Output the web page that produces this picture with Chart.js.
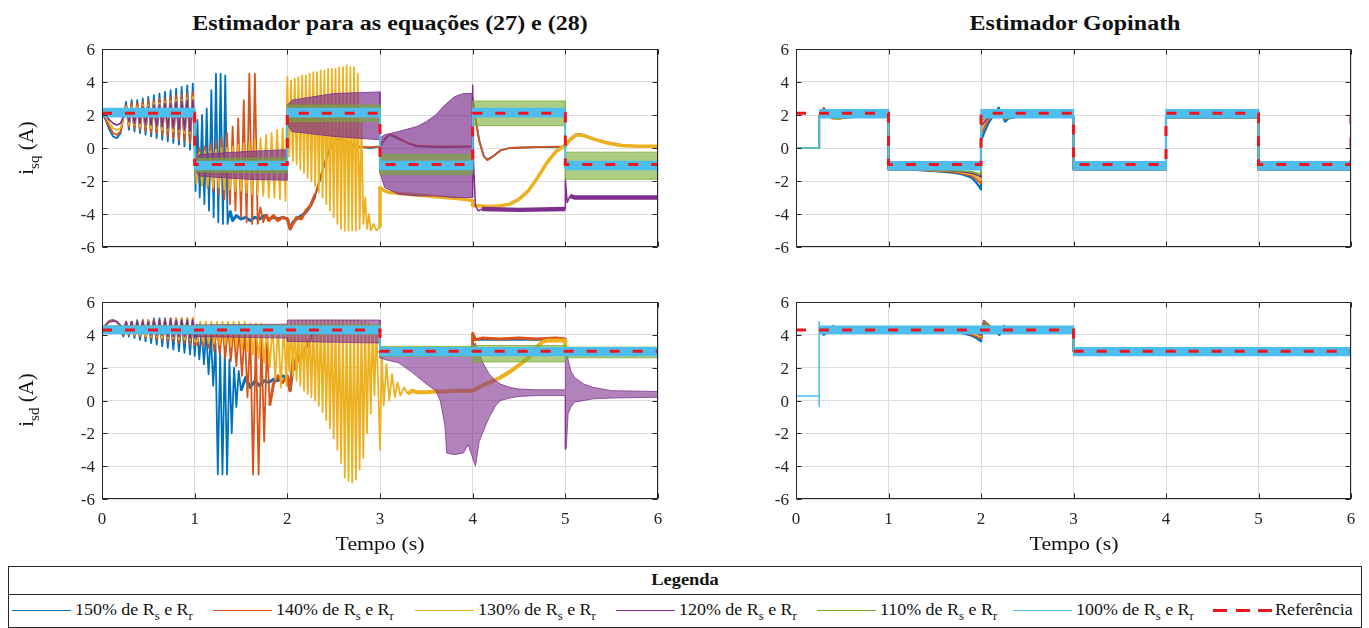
<!DOCTYPE html>
<html><head><meta charset="utf-8">
<script src="https://cdn.jsdelivr.net/npm/chart.js@4.4.0/dist/chart.umd.min.js"></script>
<style>
body{margin:0;background:#fff;width:1369px;height:628px;overflow:hidden;position:relative;font-family:'Liberation Serif','Times New Roman',serif;color:#111}
canvas{position:absolute}
.t{position:absolute;white-space:nowrap;line-height:1}
.c{transform:translate(-50%,-50%) scaleX(1.15)}
.ttl{font-weight:bold;font-size:20px;transform:translate(-50%,-50%) scaleX(1.2)}
.yl{font-size:21px;transform:translate(-50%,-50%) rotate(-90deg)}
sub{font-size:0.72em;vertical-align:-0.45em;line-height:0}
.li{position:absolute;white-space:nowrap;font-size:16px;line-height:1;transform-origin:left center;transform:translateY(-50%) scaleX(1.12)}
.tk{position:absolute;white-space:nowrap;font-size:17px;line-height:1;color:#262626}
.tky{transform:translate(-100%,-50%)}
.tkx{transform:translate(-50%,0)}
</style></head><body>
<canvas id="cA" width="640" height="222" style="left:30px;top:38px;width:640px;height:222px"></canvas>
<canvas id="cB" width="640" height="250" style="left:30px;top:290px;width:640px;height:250px"></canvas>
<canvas id="cC" width="640" height="222" style="left:724px;top:38px;width:640px;height:222px"></canvas>
<canvas id="cD" width="640" height="250" style="left:724px;top:290px;width:640px;height:250px"></canvas>
<div class="t ttl" style="left:390px;top:23px">Estimador para as equações (27) e (28)</div>
<div class="t ttl" style="left:1075px;top:23px">Estimador Gopinath</div>
<div class="t yl" style="left:26px;top:148px">i<sub>sq</sub> (A)</div>
<div class="t yl" style="left:26px;top:400px">i<sub>sd</sub> (A)</div>
<div class="t c" style="left:380px;top:543px;font-size:19px">Tempo (s)</div>
<div class="t c" style="left:1074px;top:543px;font-size:19px">Tempo (s)</div>
<div id="ticks"></div>
<div id="legend"></div>
<script>
// ---------- axis ticks ----------
const X_TICKS = [0,1,2,3,4,5,6];
const Y_TICKS = [-6,-4,-2,0,2,4,6];

// ---------- shared time grids ----------
const T01 = [0,0.04,0.08,0.12,0.16,0.2,0.23,0.26,0.29,0.32,0.35,0.38,0.41,0.44,0.47,0.5,0.53,0.56,0.59,0.62,0.65,0.68,0.71,0.74,0.77,0.8,0.83,0.86,0.89,0.92,0.95,0.98,1.0];
const T12 = [1.02,1.05,1.08,1.11,1.14,1.17,1.2,1.23,1.26,1.29,1.32,1.35,1.38,1.41,1.44,1.47,1.5,1.53,1.56,1.59,1.62,1.65,1.68,1.71,1.74,1.77,1.8,1.83,1.86,1.89,1.92,1.95,1.98];
const T12B = [1.03,1.06,1.09,1.12,1.15,1.18,1.21,1.24,1.27,1.3,1.33,1.36,1.39,1.42,1.45,1.48,1.51,1.54,1.57,1.6,1.63,1.66,1.69,1.72,1.75,1.78,1.81,1.84,1.87,1.9,1.93,1.96,1.99];
const T2Y = [2,2.02,2.04,2.06,2.08,2.1,2.12,2.14,2.16,2.18,2.2,2.22,2.24,2.26,2.28,2.3,2.32,2.34,2.36,2.38,2.4,2.42,2.44,2.46,2.48,2.5,2.52,2.54,2.56,2.58,2.6,2.62,2.64,2.66,2.68,2.7,2.72,2.74,2.76,2.78];
const T2B = [...T2Y,2.8,2.82,2.84,2.86,2.88,2.9,2.92,2.94,2.96,2.98];

// ================= Panel A: i_sq, estimator eq. (27)/(28) =================
const T_REF_A = [0,1,1,2,2,3,3,4,4,5,5,6];
const REF_A   = [2.1,2.1,-1,-1,2.1,2.1,-1,-1,2.1,2.1,-1,-1];
const T_A100 = [0,0,1,1,2,2,3,3,4,4,5,5,6];
const A100_HI = [0,2.4,2.4,-0.82,-0.82,2.4,2.4,-0.82,-0.82,2.4,2.4,-0.82,-0.82];
const A100_LO = [0,1.9,1.9,-1.3,-1.3,1.9,1.9,-1.3,-1.3,1.9,1.9,-1.3,-1.3];
const T_A110 = [0,1,1,2,2,3,3,4,4,5,5,6];
const A110_HI = [2.3,2.35,-0.65,-0.6,2.6,2.6,-0.4,-0.4,2.85,2.85,-0.25,-0.25];
const A110_LO = [1.95,1.9,-1.45,-1.5,1.6,1.6,-1.6,-1.6,1.35,1.35,-1.9,-1.9];
const A120_L1 = [2.1,2.0,1.7,1.5,1.4,1.5,1.9,2.4,1.6,2.4,1.5,2.4,1.5,2.5,1.4,2.5,1.4,2.6,1.3,2.6,1.3,2.7,1.2,2.7,1.2,2.8,1.1,2.8,1.1,2.9,1.0,2.9,1.0];
const T_A120B = [1.0,1.05,1.3,1.6,2.0,2.0,2.05,2.5,3.0,3.0,3.05,3.2,3.4,3.5,3.6,3.7,3.8,3.9,4.0];
const A120_HI = [-0.8,-0.4,-0.3,-0.2,-0.1,2.6,2.9,3.3,3.4,0.6,0.8,1.0,1.3,1.6,2.0,2.6,3.1,3.3,3.3];
const A120_LO = [-1.3,-1.7,-1.8,-1.9,-1.95,1.4,1.0,0.7,0.5,-1.5,-2.4,-2.8,-2.9,-2.9,-2.9,-2.95,-3.0,-3.0,-3.0];
const T_A120C = [4.0,4.0,4.01,4.03,4.06,4.1,4.5,5.0,5.0,5.02,5.05,5.1,5.5,6.0];
const A120_L2 = [-3.0,3.8,-1.0,-3.5,-3.8,-3.7,-3.75,-3.7,-1.9,-3.3,-2.9,-3.0,-3.0,-3.0];
const T_A130 = [...T01,...T12,...T2Y,2.8,2.82,2.84,2.86,2.88,2.9,2.93,2.96,3.0,3.0,3.05,3.1,3.2,3.3,3.4,3.5,3.6,3.7,3.8,3.9,4.0,4.0,4.05,4.2,4.3,4.4,4.5,4.6,4.7,4.8,4.9,5.0,5.05,5.12,5.2,5.3,5.45,5.6,5.8,6.0];
const A130 = [2.1,1.9,1.5,1.2,1.1,1.2,1.8,2.5,1.4,2.5,1.4,2.5,1.3,2.6,1.3,2.6,1.2,2.7,1.2,2.7,1.1,2.8,1.1,2.8,1.0,2.9,1.0,2.9,0.9,3.0,0.9,3.1,0.8,
 -2.2,-0.3,-2.3,-0.2,-2.3,-0.2,-2.4,-0.1,-2.4,0.0,-2.5,0.0,-2.5,0.1,-2.6,0.2,-2.6,0.3,-2.7,0.4,-2.8,0.5,-2.8,0.6,-2.9,0.8,-3.0,0.9,-3.0,1.1,-3.1,1.2,-3.2,
 4.3,-0.5,4.1,-0.8,4.2,-1.0,4.3,-1.3,4.4,-1.5,4.4,-1.8,4.5,-2.0,4.6,-2.3,4.6,-2.7,4.7,-3.0,4.7,-3.4,4.8,-3.8,4.8,-4.2,4.8,-4.6,4.9,-4.9,4.9,-5.0,5.0,-5.0,4.9,-5.0,4.9,-5.0,4.5,-4.9,
 1.5,-4.6,-3.0,-4.9,-4.0,-5.0,-4.6,-5.0,-4.8,
 -2.4,-2.6,-2.7,-2.75,-2.8,-2.85,-2.9,-2.95,-3.0,-3.05,-3.1,-3.2,
 -3.5,-3.5,-3.55,-3.5,-3.4,-3.1,-2.6,-1.8,-0.9,-0.2,0.15,
 0.5,0.8,0.75,0.55,0.3,0.15,0.1,0.1];
const T_A140 = [...T01,1.02,1.05,1.08,1.11,1.14,1.17,1.2,1.23,1.26,1.29,1.32,1.35,1.38,1.41,1.44,1.47,1.5,1.53,1.56,1.59,1.62,1.65,1.68,1.71,1.74,1.77,1.8,1.85,1.9,1.95,2.0,
 2.03,2.06,2.1,2.15,2.2,2.25,2.3,2.35,2.4,2.45,2.5,2.55,2.6,2.65,2.7,2.8,2.9,3.0,3.05,3.1,3.15,3.2,3.3,3.4,3.6,3.8,4.0,4.0,4.03,4.07,4.12,4.16,4.22,4.3,4.4,4.7,5.0,5.05,5.12,5.2,5.3,5.45,5.6,5.8,6.0];
const A140 = [2.1,1.8,1.3,0.9,0.8,1.0,1.8,2.6,1.3,2.7,1.2,2.7,1.1,2.8,1.0,2.9,0.9,2.9,0.9,3.0,0.8,3.0,0.7,3.1,0.6,3.2,0.5,3.2,0.4,3.3,0.3,3.4,0.2,
 -2.0,0.0,-2.2,0.1,-2.4,0.2,-2.6,0.4,-2.8,0.6,-3.1,0.9,-3.4,1.3,-3.8,1.8,-4.2,2.9,-4.5,4.5,-4.6,4.5,-4.6,-3.6,-4.5,-4.0,-4.4,-4.1,-4.4,-4.2,-4.3,
 -4.9,-4.6,-4.2,-4.3,-3.8,-3.5,-2.8,-1.9,-0.9,-0.1,0.4,0.6,0.45,0.3,0.15,0.05,0.05,0.1,
 0.55,0.8,0.75,0.6,0.3,0.15,0.1,0.1,0.1,
 3.0,1.8,0.4,-0.5,-0.75,-0.5,-0.15,0.0,0.05,0.1,
 0.55,0.85,0.8,0.55,0.35,0.2,0.1,0.1];
const T_A150 = [...T01,1.01,1.03,1.055,1.08,1.105,1.13,1.155,1.18,1.205,1.23,1.255,1.28,1.305,1.33,1.355,1.38,1.41,1.45,1.5,1.55,1.6,1.65,1.7,1.75,1.8,1.85,1.9,1.95,2.0,
 2.03,2.06,2.1,2.15,2.2,2.25,2.3,2.35,2.4,2.45,2.5,2.55,2.6,2.65,2.7,2.8,2.9,3.0,3.05,3.1,3.15,3.2,3.3,3.4,3.6,3.8,4.0,4.0,4.03,4.07,4.12,4.16,4.22,4.3,4.4,4.7,5.0,5.05,5.12,5.2,5.3,5.45,5.6,5.8,6.0];
const A150 = [2.1,1.7,1.1,0.7,0.6,0.9,1.8,2.8,1.1,2.9,1.0,2.9,0.9,3.0,0.8,3.1,0.7,3.2,0.6,3.3,0.5,3.4,0.4,3.5,0.3,3.6,0.2,3.7,0.1,3.8,-0.1,3.9,-0.3,
 -2.6,1.7,-3.0,2.0,-3.4,2.4,-3.8,3.5,-4.2,4.5,-4.5,4.5,-4.6,4.4,-4.6,-3.8,-4.4,-4.1,-4.3,-4.2,-4.4,-4.2,-4.3,-4.1,-4.3,-4.2,-4.3,-4.2,-4.3,
 -4.9,-4.5,-4.3,-4.1,-3.9,-3.5,-2.9,-2.0,-1.0,-0.2,0.3,0.55,0.5,0.35,0.2,0.05,0.0,0.1,
 0.5,0.8,0.7,0.55,0.3,0.1,0.05,0.05,0.1,
 3.0,1.8,0.5,-0.5,-0.7,-0.5,-0.15,0.0,0.05,0.05,
 0.5,0.85,0.8,0.55,0.3,0.15,0.1,0.1];

// ================= Panel B: i_sd, estimator eq. (27)/(28) =================
const T_REF_B = [0,3,3,6];
const REF_B   = [4.3,4.3,3.0,3.0];
const T_B100 = [0,0,3,3,6];
const B100_HI = [0,4.52,4.52,3.22,3.22];
const B100_LO = [0,4.08,4.08,2.74,2.74];
const T_B110 = [0,3,3,4,4,5,5,6];
const B110_HI = [4.55,4.6,3.3,3.3,3.35,3.35,3.25,3.25];
const B110_LO = [4.1,4.05,2.7,2.7,2.35,2.35,2.6,2.6];
const B120_L1 = [4.3,4.6,4.8,4.85,4.8,4.6,4.2,4.8,4.2,4.8,4.1,4.8,4.1,4.8,4.1,4.8,4.0,4.9,4.0,4.9,4.0,4.9,3.9,4.9,3.9,4.9,3.9,4.9,3.9,4.9,3.8,4.9,3.8];
const T_B120B = [1.0,2.0,2.0,3.0,3.0,3.05,3.2,3.35,3.5,3.6,3.65,3.7,3.72,3.8,3.9,3.95,4.0,4.03,4.07,4.12,4.18,4.25,4.3,4.4,4.5,4.7,5.0,5.0,5.01,5.03,5.06,5.1,5.2,5.3,5.5,6.0];
const B120_HI = [4.6,4.65,4.9,4.9,3.1,3.0,3.0,3.0,3.0,3.0,3.0,3.1,3.1,3.1,3.1,3.2,3.3,3.5,2.8,2.2,1.6,1.2,1.0,0.8,0.7,0.65,0.65,3.0,3.0,2.5,1.8,1.4,1.0,0.8,0.6,0.55];
const B120_LO = [3.9,3.8,3.6,3.5,2.6,2.5,2.3,1.7,1.0,0.6,0.0,-1.5,-3.2,-3.3,-3.2,-2.7,-3.5,-4.0,-2.5,-1.8,-1.0,-0.3,0.0,0.15,0.25,0.3,0.3,-3.0,-2.9,-0.8,-0.4,-0.1,0.0,0.1,0.15,0.2];
const T_B130 = [...T01,...T12B,...T2B,3.0,3.02,3.04,3.07,3.1,3.13,3.16,3.19,3.22,3.26,3.3,3.35,3.4,3.5,3.6,3.7,3.8,3.9,4.0,4.1,4.2,4.3,4.4,4.5,4.6,4.7,4.75,4.8,4.9,5.0,5.0,6.0];
const B130 = [4.3,4.6,4.8,4.85,4.8,4.5,4.1,4.8,4.1,4.8,4.0,4.8,4.0,4.8,3.9,4.9,3.9,4.9,3.9,4.9,3.8,4.9,3.8,4.9,3.8,5.0,3.7,5.0,3.7,5.0,3.7,5.0,3.6,
 3.6,4.8,3.6,4.8,3.5,4.8,3.5,4.8,3.4,4.8,3.4,4.8,3.3,4.8,3.2,4.8,3.1,4.8,3.0,4.7,2.8,4.7,2.6,4.7,2.3,4.6,2.0,4.6,1.3,4.6,0.8,4.6,0.9,
 4.6,1.8,4.8,1.5,4.8,1.2,4.9,0.9,4.9,0.6,4.9,0.4,4.9,0.2,4.9,0.0,4.9,-0.3,4.9,-0.7,4.9,-1.2,4.9,-1.7,4.9,-2.3,4.9,-3.0,4.9,-3.8,4.9,-4.7,4.9,-4.9,4.9,-5.0,4.9,-4.8,4.9,-4.2,4.8,-3.5,4.8,-2.0,4.7,-0.8,4.6,0.3,4.5,1.0,
 -3.0,
 2.8,-0.3,2.2,0.0,1.6,0.2,1.1,0.3,0.8,0.4,0.6,0.5,0.5,0.55,0.55,0.6,0.6,0.6,
 0.9,1.15,1.4,1.75,2.15,2.6,3.3,3.55,3.65,3.65,3.65,
 3.0,3.0];
const T_B140 = [...T01,1.03,1.06,1.09,1.12,1.15,1.18,1.21,1.24,1.27,1.3,1.33,1.36,1.39,1.42,1.45,1.48,1.51,1.54,1.57,1.6,1.63,1.66,1.69,1.72,1.75,1.78,1.81,1.85,1.9,1.95,2.0,
 2.03,2.06,2.09,2.12,2.15,2.2,2.25,2.3,2.35,3.0,3.0,4.0,4.0,4.03,4.1,4.3,4.5,4.7,4.9,5.0,5.0,6.0];
const B140 = [4.3,4.6,4.85,4.9,4.8,4.5,4.0,4.8,4.0,4.8,3.9,4.8,3.9,4.9,3.8,4.9,3.8,4.9,3.7,4.9,3.7,4.9,3.6,5.0,3.6,5.0,3.5,5.0,3.5,5.0,3.4,5.0,3.4,
 3.4,4.6,3.3,4.6,3.2,4.6,3.0,4.5,2.8,4.5,2.6,4.5,2.4,4.4,2.1,4.4,1.5,4.3,0.2,4.2,-4.5,4.0,-4.5,3.8,-2.5,3.5,-0.3,1.0,1.5,1.1,1.5,
 0.6,2.6,1.9,2.8,2.6,3.2,3.8,4.1,4.3,4.3,3.0,3.0,4.1,3.7,3.8,3.75,3.8,3.75,3.8,3.75,3.0,3.0];
const T_B150 = [...T01,1.025,1.05,1.075,1.1,1.125,1.15,1.175,1.2,1.225,1.25,1.275,1.3,1.325,1.35,1.375,1.4,1.425,1.45,1.475,1.5,1.55,1.6,1.65,1.7,1.75,1.8,1.85,1.9,1.95,2.0,
 2.03,2.06,2.1,2.15,2.2,2.25,2.3,2.4,3.0,3.0,4.0,4.0,4.03,5.0,5.0,6.0];
const B150 = [4.3,4.6,4.85,4.9,4.8,4.4,3.9,4.8,3.9,4.8,3.8,4.9,3.7,4.9,3.6,4.9,3.5,5.0,3.4,5.0,3.3,5.0,3.2,5.0,3.1,5.0,3.0,5.0,2.9,5.0,2.8,5.0,2.7,
 4.6,2.5,4.4,2.2,4.2,1.6,4.0,0.9,3.5,-4.5,3.0,-4.5,3.0,-4.5,2.5,-2.0,2.0,-0.4,1.8,0.6,1.4,0.8,1.2,0.9,1.2,1.1,1.3,1.2,1.5,1.4,
 0.6,1.9,2.4,2.7,3.2,3.8,4.2,4.4,4.3,3.0,3.0,4.0,3.7,3.7,3.0,3.0];

// ================= Panel C: i_sq, Gopinath =================
const T_REF_C = [0,1,1,2,2,3,3,4,4,5,5,6,6];
const REF_C   = [2.1,2.1,-1,-1,2.1,2.1,-1,-1,2.1,2.1,-1,-1,2.1];
const T_C100A = [0,0.25,0.25];
const C100A   = [0,0,1.84];
const T_C100B = [0.25,1,1,2,2,3,3,4,4,5,5,6];
const C100_HI = [2.32,2.32,-0.84,-0.84,2.32,2.32,-0.84,-0.84,2.32,2.32,-0.84,-0.84];
const C100_LO = [1.84,1.84,-1.32,-1.32,1.84,1.84,-1.32,-1.32,1.84,1.84,-1.32,-1.32];
const T_C = [0,0.25,0.25,0.3,0.34,0.38,0.45,0.55,0.7,1.0,1.0,1.3,1.5,1.7,1.8,1.9,1.95,2.0,2.0,2.04,2.08,2.12,2.16,2.19,2.23,2.26,2.3,2.4,3.0,3.0,4.0,4.0,5.0,5.0,6.0];
const C110 = [0,0,1.9,2.3,2.15,1.85,1.8,1.85,1.9,1.9,-1.3,-1.3,-1.32,-1.35,-1.4,-1.45,-1.52,-1.6,1.6,1.8,1.9,2.0,2.15,2.2,2.0,1.9,1.9,1.9,1.9,-1.3,-1.3,1.85,1.85,-1.3,-1.3];
const C120 = [0,0,1.9,2.4,2.15,1.85,1.8,1.85,1.9,1.9,-1.3,-1.3,-1.33,-1.38,-1.45,-1.52,-1.62,-1.75,1.35,1.6,1.85,2.0,2.2,2.25,2.0,1.85,1.9,1.9,1.9,-1.3,-1.3,1.85,1.85,-1.3,-1.3];
const C130 = [0,0,1.9,2.45,2.1,1.8,1.75,1.85,1.9,1.9,-1.3,-1.3,-1.35,-1.4,-1.5,-1.6,-1.75,-1.95,1.1,1.5,1.8,1.95,2.2,2.3,2.0,1.8,1.85,1.9,1.9,-1.3,-1.3,1.85,1.85,-1.3,-1.3];
const C140 = [0,0,1.9,2.4,2.1,1.8,1.75,1.85,1.9,1.9,-1.3,-1.32,-1.38,-1.45,-1.55,-1.7,-1.9,-2.15,0.8,1.3,1.7,1.9,2.2,2.35,2.0,1.75,1.85,1.9,1.9,-1.3,-1.3,1.85,1.85,-1.3,-1.3];
const C150 = [0,0,1.9,2.3,2.1,1.85,1.8,1.85,1.9,1.9,-1.3,-1.32,-1.4,-1.5,-1.6,-1.8,-2.1,-2.5,0.45,1.0,1.5,1.85,2.1,2.45,2.0,1.6,1.8,1.9,1.9,-1.3,-1.3,1.85,1.85,-1.3,-1.3];

// ================= Panel D: i_sd, Gopinath =================
const T_REF_D = [0,3,3,6];
const REF_D   = [4.3,4.3,3.0,3.0];
const T_D100A = [0,0.25,0.25,0.25,0.25];
const D100A   = [0.27,0.27,-0.37,4.8,4.3];
const T_D100B = [0.25,3,3,6];
const D100_HI = [4.52,4.52,3.22,3.22];
const D100_LO = [4.08,4.08,2.74,2.74];
const T_D = [0.25,0.3,0.35,0.4,0.45,0.55,0.7,1.0,1.5,1.7,1.8,1.9,1.95,2.0,2.03,2.06,2.1,2.15,2.2,2.25,2.3,2.4,3.0,3.0,6.0];
const D110 = [4.3,4.15,4.3,4.45,4.4,4.3,4.3,4.3,4.3,4.3,4.28,4.25,4.2,4.15,4.6,4.6,4.45,4.35,4.25,4.35,4.3,4.3,4.3,3.0,3.0];
const D120 = [4.3,4.1,4.3,4.5,4.4,4.3,4.3,4.3,4.3,4.28,4.25,4.2,4.1,4.0,4.7,4.65,4.5,4.35,4.2,4.4,4.3,4.3,4.3,3.0,3.0];
const D130 = [4.3,4.1,4.25,4.5,4.4,4.3,4.3,4.3,4.28,4.25,4.2,4.1,4.0,3.9,4.75,4.7,4.5,4.3,4.15,4.45,4.3,4.3,4.3,3.0,3.0];
const D140 = [4.3,4.05,4.2,4.55,4.4,4.3,4.3,4.3,4.25,4.2,4.15,4.0,3.9,3.75,4.8,4.75,4.5,4.3,4.1,4.5,4.3,4.3,4.3,3.0,3.0];
const D150 = [4.3,4.0,4.2,4.5,4.4,4.3,4.3,4.3,4.25,4.2,4.1,3.95,3.8,3.6,4.85,4.7,4.4,4.2,4.0,4.55,4.3,4.3,4.3,3.0,3.0];

// ---------- legend ----------
const LEG_LABELS = ['150%','140%','130%','120%','110%','100%'];
const LEG_REF = 'Referência';

// ---------- styling ----------
const FONT = "'Liberation Serif', 'Times New Roman', serif";
const COL = {b150:'#0072BD',o140:'#D95319',y130:'#EDB120',p120:'#7E2F8E',g110:'#77AC30',c100:'#4DBEEE',ref:'#F0141E'};
const LEG_COLORS = [COL.b150,COL.o140,COL.y130,COL.p120,COL.g110,COL.c100];

function pts(T,Y){return T.map((t,i)=>({x:t,y:Y[i]}));}
function rgba(h,a){const n=parseInt(h.slice(1),16);return `rgba(${n>>16&255},${n>>8&255},${n&255},${a})`;}
function ln(T,Y,color,order,w,extra){return Object.assign({data:pts(T,Y),borderColor:color,backgroundColor:color,borderWidth:w||1.6,pointRadius:0,fill:false,order,clip:0,borderJoinStyle:'round',tension:0},extra||{});}
function band(T,HI,LO,color,alpha,order,lw){
  return [
    {data:pts(T,HI),borderColor:rgba(color,Math.min(1,alpha+0.15)),borderWidth:lw||1,pointRadius:0,fill:false,order,clip:0,tension:0},
    {data:pts(T,LO),borderColor:rgba(color,Math.min(1,alpha+0.15)),borderWidth:lw||1,pointRadius:0,fill:'-1',backgroundColor:rgba(color,alpha),order,clip:0,tension:0}
  ];
}
function refLine(T,Y){return ln(T,Y,COL.ref,0,3,{borderDash:[10,13],borderJoinStyle:'miter',borderCapStyle:'butt'});}
const thinSpikes = {borderWidth: c => (c.p1.parsed.x - c.p0.parsed.x) < 0.045 ? 1.5 : 4.5};

const boxPlugin = {
  id:'box',
  afterDraw(chart){
    const {ctx, chartArea:a, scales} = chart;
    const L=Math.round(a.left)+0.5, R=Math.round(a.right)-0.5, T=Math.round(a.top)+0.5, B=Math.round(a.bottom)-0.5;
    ctx.save();
    ctx.strokeStyle='#262626'; ctx.lineWidth=1;
    ctx.beginPath();
    X_TICKS.forEach(v=>{const p=Math.round(scales.x.getPixelForValue(v))+0.5; ctx.moveTo(p,B); ctx.lineTo(p,B-5); ctx.moveTo(p,T); ctx.lineTo(p,T+5);});
    Y_TICKS.forEach(v=>{const p=Math.round(scales.y.getPixelForValue(v))+0.5; ctx.moveTo(L,p); ctx.lineTo(L+5,p); ctx.moveTo(R,p); ctx.lineTo(R-5,p);});
    ctx.stroke();
    ctx.strokeRect(L,T,R-L,B-T);
    ctx.restore();
  }
};

// tick labels as text positioned through the chart's own scales
function tickLabels(chart, showX){
  const cv = chart.canvas, ox = parseFloat(cv.style.left), oy = parseFloat(cv.style.top);
  const a = chart.chartArea, sx = chart.scales.x, sy = chart.scales.y;
  const box = document.getElementById('ticks');
  let h = '';
  Y_TICKS.forEach(v=>{
    h += `<div class="tk tky" style="left:${ox + a.left - 7}px;top:${oy + sy.getPixelForValue(v)}px">${v}</div>`;
  });
  if (showX) X_TICKS.forEach(v=>{
    h += `<div class="tk tkx" style="left:${ox + sx.getPixelForValue(v)}px;top:${oy + a.bottom + 11}px">${v}</div>`;
  });
  box.insertAdjacentHTML('beforeend', h);
}

function makeChart(id, datasets, showX, padTop, padRight, xH){
  const ch = new Chart(document.getElementById(id), {
    type:'line',
    data:{datasets},
    options:{
      animation:false, responsive:false, devicePixelRatio:1, events:[],
      layout:{padding:{top:padTop,right:padRight,left:0,bottom:0}},
      plugins:{legend:{display:false},tooltip:{enabled:false},title:{display:false}},
      elements:{point:{radius:0}},
      scales:{
        x:{type:'linear',min:0,max:6,
           afterBuildTicks(s){s.ticks=X_TICKS.map(v=>({value:v}));},
           afterFit(s){s.height=xH;},
           ticks:{display:false},
           grid:{color:'#dcdcdc',lineWidth:1,drawTicks:false},
           border:{display:false}},
        y:{type:'linear',min:-6,max:6,
           afterBuildTicks(s){s.ticks=Y_TICKS.map(v=>({value:v}));},
           afterFit(s){s.width=72;},
           ticks:{display:false},
           grid:{color:'#dcdcdc',lineWidth:1,drawTicks:false},
           border:{display:false}}
      }
    },
    plugins:[boxPlugin]
  });
  tickLabels(ch, showX);
  return ch;
}

// Panel A
makeChart('cA', [
  refLine(T_REF_A, REF_A),
  ...band(T_A100, A100_HI, A100_LO, COL.c100, 1, 1, 1.5),
  ...band(T_A110, A110_HI, A110_LO, COL.g110, 0.6, 2),
  ...band(T_A120B, A120_HI, A120_LO, COL.p120, 0.68, 3),
  ln(T01, A120_L1, COL.p120, 3, 1.6),
  ln(T_A120C, A120_L2, COL.p120, 3, 4.5, {segment:thinSpikes}),
  ln(T_A130, A130, COL.y130, 4, 1.8, {segment:{borderWidth:c=>c.p0.parsed.x>=3 ? 3.5 : 1.8}}),
  ln(T_A140, A140, COL.o140, 5, 1.8, {segment:{borderWidth:c=>(c.p0.parsed.x>=1.75 && c.p0.parsed.x<2.3) ? 3 : 1.8}}),
  ln(T_A150, A150, COL.b150, 6, 1.8, {segment:{borderWidth:c=>(c.p0.parsed.x>=1.38 && c.p0.parsed.x<2.3) ? 3 : 1.8}})
], false, 11, 12, 13);

// Panel B
makeChart('cB', [
  refLine(T_REF_B, REF_B),
  ...band(T_B100, B100_HI, B100_LO, COL.c100, 1, 1, 1.5),
  ...band(T_B110, B110_HI, B110_LO, COL.g110, 0.6, 2),
  ...band(T_B120B, B120_HI, B120_LO, COL.p120, 0.6, 3),
  ln(T01, B120_L1, COL.p120, 3, 1.6),
  ln(T_B130, B130, COL.y130, 4, 1.8, {segment:{borderWidth:c=>(c.p0.parsed.x>=3.3) ? 4 : 1.8}}),
  ln(T_B140, B140, COL.o140, 5, 1.8, {segment:{borderWidth:c=>(c.p0.parsed.x>=1.8 && c.p0.parsed.x<2.4)||(c.p0.parsed.x>=4.0) ? 3 : 1.8}}),
  ln(T_B150, B150, COL.b150, 6, 1.8, {segment:{borderWidth:c=>(c.p0.parsed.x>=1.5 && c.p0.parsed.x<2.4) ? 3 : 1.8}})
], true, 12, 12, 41);

// Panel C
makeChart('cC', [
  refLine(T_REF_C, REF_C),
  ln(T_C100A, C100A, COL.c100, 1, 1.6),
  ...band(T_C100B, C100_HI, C100_LO, COL.c100, 1, 1, 1.5),
  ln(T_C, C110, COL.g110, 2, 1.8),
  ln(T_C, C120, COL.p120, 3, 1.8),
  ln(T_C, C130, COL.y130, 4, 1.8),
  ln(T_C, C140, COL.o140, 5, 1.8),
  ln(T_C, C150, COL.b150, 6, 2.2)
], false, 11, 13, 13);

// Panel D
makeChart('cD', [
  refLine(T_REF_D, REF_D),
  ln(T_D100A, D100A, COL.c100, 1, 1.6),
  ...band(T_D100B, D100_HI, D100_LO, COL.c100, 1, 1, 1.5),
  ln(T_D, D110, COL.g110, 2, 1.8),
  ln(T_D, D120, COL.p120, 3, 1.8),
  ln(T_D, D130, COL.y130, 4, 1.8),
  ln(T_D, D140, COL.o140, 5, 1.8),
  ln(T_D, D150, COL.b150, 6, 2.2)
], true, 12, 13, 41);

// ---------- legend (HTML) ----------
(function(){
  const lg = document.getElementById('legend');
  const LEG_X = [12,213,415,616,817,1013,1213];
  let h = '<div style="position:absolute;left:8px;top:566px;width:1354px;height:62px;border:1px solid #262626;box-sizing:border-box"></div>';
  h += '<div style="position:absolute;left:8px;top:594px;width:1354px;height:1px;background:#262626"></div>';
  h += '<div class="t" style="left:685px;top:580px;font-weight:bold;font-size:16px;transform:translate(-50%,-50%) scaleX(1.15)">Legenda</div>';
  LEG_LABELS.forEach((lab,i)=>{
    h += `<div style="position:absolute;left:${LEG_X[i]}px;top:610px;width:59px;height:0;border-top:1.5px solid ${LEG_COLORS[i]}"></div>`;
    h += `<div class="li" style="left:${LEG_X[i]+63}px;top:610px">${lab} de R<sub>s</sub> e R<sub>r</sub></div>`;
  });
  h += `<div style="position:absolute;left:${LEG_X[6]}px;top:609px;width:59px;height:2.5px;background:repeating-linear-gradient(to right, ${COL.ref} 0 14px, transparent 14px 22.5px)"></div>`;
  h += `<div class="li" style="left:${LEG_X[6]+62}px;top:610px">${LEG_REF}</div>`;
  lg.innerHTML = h;
})();
</script>
</body></html>
